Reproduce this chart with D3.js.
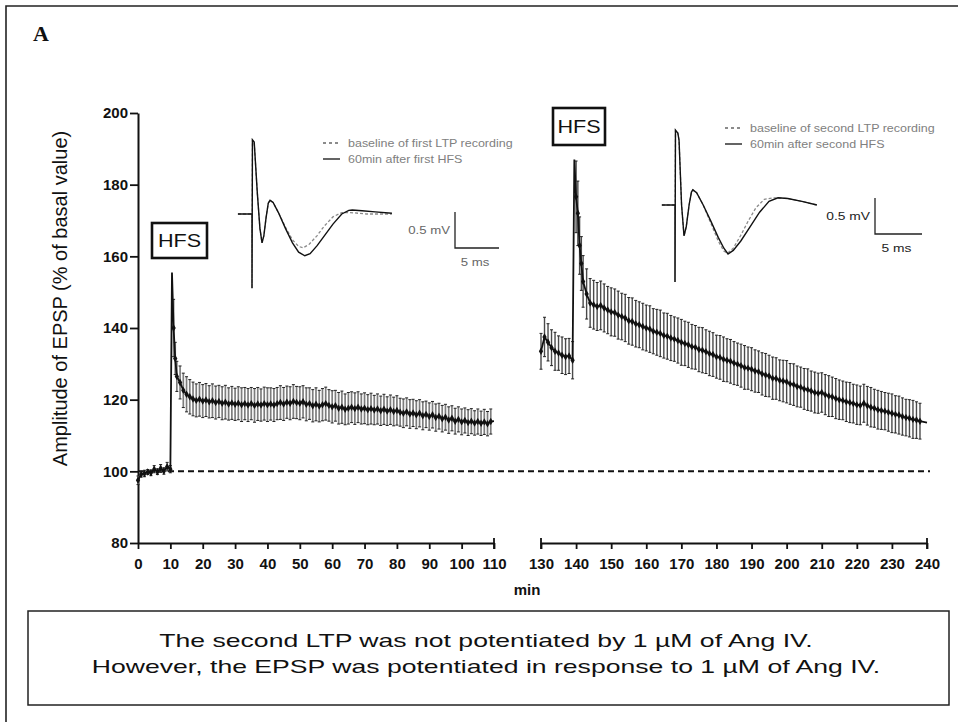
<!DOCTYPE html>
<html>
<head>
<meta charset="utf-8">
<script src="https://cdn.jsdelivr.net/npm/d3@7"></script>
<style>
  html, body { margin: 0; padding: 0; background: #fff; }
  svg { display: block; }
</style>
</head>
<body>
<svg id="chart" width="958" height="722"></svg>
<script>
// ---- Recording 1: first LTP (min, % of basal EPSP amplitude, SEM) ----
const firstTime = [0,1,2,3,4,5,6,7,8,9,10,10.5,11,11.5,12,13,14,15,16,17,18,19,20,21,22,23,24,25,26,27,28,29,30,31,32,33,34,35,36,37,38,39,40,41,42,43,44,45,46,47,48,49,50,51,52,53,54,55,56,57,58,59,60,61,62,63,64,65,66,67,68,69,70,71,72,73,74,75,76,77,78,79,80,81,82,83,84,85,86,87,88,89,90,91,92,93,94,95,96,97,98,99,100,101,102,103,104,105,106,107,108,109,110];
const firstMean = [97.5,99.2,99.4,99.8,99.6,100.6,99.9,100.8,100.1,101.3,100.6,155.5,140.0,131.5,126.5,124.8,122.6,121.5,120.8,120.2,119.8,120.1,119.6,119.9,119.4,119.7,119.2,119.5,119.0,119.3,118.8,119.1,118.7,119.0,118.6,118.9,118.5,118.9,118.4,118.8,118.5,118.9,118.6,118.8,118.5,118.9,119.2,118.8,119.3,119.0,119.5,119.2,119.0,119.4,118.7,118.9,118.3,118.7,118.2,118.6,118.9,118.4,118.0,118.3,117.6,117.9,117.3,117.6,117.9,117.5,117.9,117.4,117.6,117.2,117.5,117.1,117.4,116.9,117.3,116.8,117.2,116.7,117.0,116.5,116.2,116.6,116.0,116.3,115.8,116.2,115.5,115.9,115.3,115.8,115.0,115.4,114.7,115.1,114.3,114.8,114.0,114.5,113.8,114.2,113.6,114.0,113.5,113.9,113.4,113.8,113.3,113.9,114.0];
const firstSem = [1.2,0.8,0.9,0.7,0.8,1.0,0.8,1.1,0.9,1.2,1.0,0,8.0,4.5,4.2,4.6,4.8,4.9,4.8,4.7,4.6,4.7,4.6,4.6,4.5,4.7,4.6,4.5,4.6,4.7,4.5,4.6,4.5,4.6,4.7,4.5,4.6,4.5,4.7,4.6,4.5,4.6,4.7,4.5,4.6,4.5,4.7,4.6,4.5,4.6,4.7,4.5,4.6,4.5,4.6,4.4,4.5,4.6,4.4,4.5,4.6,4.4,4.5,4.3,4.4,4.5,4.3,4.4,4.3,4.4,4.3,4.2,4.3,4.2,4.3,4.1,4.2,4.1,4.2,4.0,4.1,4.0,4.1,3.9,4.0,3.9,4.0,3.8,3.9,3.8,3.9,3.7,3.8,3.7,3.8,3.6,3.7,3.6,3.7,3.5,3.6,3.5,3.6,3.5,3.6,3.5,3.4,3.5,3.4,3.5,3.4,3.5];

// ---- Recording 2: second LTP ----
const secondTime = [130,131,132,133,134,135,136,137,138,139,139.5,140,140.5,141,141.5,142,143,144,145,146,147,148,149,150,151,152,153,154,155,156,157,158,159,160,161,162,163,164,165,166,167,168,169,170,171,172,173,174,175,176,177,178,179,180,181,182,183,184,185,186,187,188,189,190,191,192,193,194,195,196,197,198,199,200,201,202,203,204,205,206,207,208,209,210,211,212,213,214,215,216,217,218,219,220,221,222,223,224,225,226,227,228,229,230,231,232,233,234,235,236,237,238,239,240];
const secondMean = [133.5,137.5,136.0,134.5,133.5,133.0,132.4,132.0,132.2,131.0,187.0,176.6,172.0,163.0,158.0,153.0,149.5,147.0,146.5,146.0,146.3,145.6,145.0,144.5,144.3,143.6,143.2,142.8,142.0,141.8,141.2,140.9,140.4,140.0,139.7,139.1,138.8,138.5,137.9,137.7,137.2,136.9,136.5,136.0,135.7,135.3,134.8,134.6,134.0,133.8,133.4,132.9,132.6,132.0,131.8,131.3,131.0,130.7,130.2,129.9,129.5,129.0,128.8,128.5,128.0,127.8,127.2,126.9,126.6,126.0,125.9,125.4,125.2,125.0,124.4,124.2,123.7,123.5,123.0,122.8,122.4,122.0,121.8,122.0,121.4,121.0,120.8,120.3,120.0,119.8,119.4,119.2,118.9,118.6,118.4,119.0,118.3,117.9,117.6,117.2,117.0,116.8,116.5,116.2,115.9,115.7,115.3,115.0,114.8,114.5,114.3,114.0,113.8,113.6,113.8,113.5];
const secondSem = [5.0,5.5,5.2,5.0,5.3,4.8,5.1,5.0,4.9,5.2,0,10.0,9.0,8.0,7.5,7.2,7.0,6.8,6.8,6.7,6.8,6.7,6.6,6.7,6.6,6.7,6.5,6.6,6.5,6.6,6.5,6.4,6.5,6.4,6.5,6.3,6.4,6.5,6.3,6.4,6.3,6.2,6.3,6.4,6.2,6.3,6.2,6.1,6.2,6.3,6.1,6.2,6.1,6.0,6.1,6.2,6.0,6.1,6.0,5.9,6.0,6.1,5.9,6.0,5.9,5.8,5.9,6.0,5.8,5.9,5.8,5.7,5.8,5.9,5.7,5.8,5.7,5.6,5.7,5.8,5.6,5.7,5.6,5.5,5.6,5.7,5.5,5.6,5.5,5.4,5.5,5.6,5.4,5.5,5.4,5.3,5.4,5.5,5.3,5.4,5.3,5.2,5.3,5.4,5.2,5.3,5.2,5.1,5.2,5.3,5.1,5.0];

// ---- Axis ticks ----
const yTicks = [80,100,120,140,160,180,200];
const xTicksFirst = [0,10,20,30,40,50,60,70,80,90,100,110];
const xTicksSecond = [130,140,150,160,170,180,190,200,210,220,230,240];

// ---- Example field-EPSP traces (ms, mV) ----
const trace1Baseline = [[-1.6,0],[0,0],[0,-1.03],[0.05,1.03],[0.25,1.0],[0.6,0.3],[0.9,-0.2],[1.14,-0.4],[1.35,-0.3],[1.6,-0.05],[1.85,0.15],[2.05,0.19],[2.4,0.16],[3.0,0.02],[3.8,-0.18],[4.6,-0.36],[5.3,-0.45],[5.8,-0.47],[6.5,-0.42],[7.4,-0.3],[8.2,-0.17],[9.2,-0.04],[10.2,0.02],[11.2,0.02],[13,0.0],[15.9,0.0]];
const trace1After = [[-1.6,0],[0,0],[0,-1.03],[0.05,1.03],[0.25,1.0],[0.6,0.3],[0.9,-0.2],[1.14,-0.4],[1.35,-0.3],[1.6,-0.05],[1.85,0.15],[2.05,0.19],[2.4,0.16],[3.0,0.02],[3.8,-0.2],[4.6,-0.4],[5.3,-0.53],[6.0,-0.58],[6.6,-0.55],[7.4,-0.44],[8.3,-0.29],[9.2,-0.14],[10.2,0.0],[11.0,0.05],[11.4,0.055],[12.5,0.045],[14,0.03],[15.9,0.01]];
const trace2Baseline = [[-1.4,0],[0,0],[0,-1.07],[0.05,1.04],[0.3,1.0],[0.43,0.9],[0.7,0.0],[0.96,-0.43],[1.2,-0.3],[1.5,0.0],[1.75,0.18],[1.9,0.21],[2.3,0.17],[3.0,0.0],[3.8,-0.25],[4.6,-0.5],[5.2,-0.64],[5.6,-0.67],[6.2,-0.6],[7.0,-0.42],[7.8,-0.22],[8.6,-0.04],[9.5,0.08],[10.5,0.1],[12,0.09],[13.5,0.05],[15.1,0.0]];
const trace2After = [[-1.4,0],[0,0],[0,-1.07],[0.05,1.04],[0.3,1.0],[0.43,0.9],[0.7,0.0],[0.96,-0.43],[1.2,-0.3],[1.5,0.0],[1.75,0.18],[1.9,0.21],[2.3,0.17],[3.0,0.0],[3.8,-0.22],[4.6,-0.45],[5.2,-0.6],[5.64,-0.68],[6.2,-0.63],[7.0,-0.5],[8.0,-0.3],[9.0,-0.1],[10.0,0.05],[10.96,0.1],[12,0.09],[13.5,0.05],[15.1,0.0]];

const legend1 = ["baseline of first LTP recording", "60min after first HFS"];
const legend2 = ["baseline of second LTP recording", "60min after second HFS"];
const noteLines = ["The second LTP was not potentiated by 1 \u00B5M of Ang IV.",
                   "However, the EPSP was potentiated in response to 1 \u00B5M of Ang IV."];

const sans = "'Liberation Sans', Arial, sans-serif";
const svg = d3.select("#chart");

// Text whose glyphs are widened horizontally by factor sx
function wideText(x, yPos, str, opts) {
  const o = Object.assign({ sx: 1, size: 12, anchor: "start", color: "#111", weight: "normal" }, opts);
  return svg.append("text")
    .attr("transform", `translate(${x},${yPos}) scale(${o.sx},1)`)
    .attr("text-anchor", o.anchor).attr("font-family", sans)
    .attr("font-size", o.size).attr("font-weight", o.weight)
    .attr("fill", o.color).text(str);
}

// Outer panel frame (top and left edges)
svg.append("path").attr("d", "M6,722 V6 H958").attr("fill", "none")
  .attr("stroke", "#222").attr("stroke-width", 1.6);

svg.append("text").attr("x", 33).attr("y", 41).text("A")
  .attr("font-family", "'Liberation Serif', 'Times New Roman', serif")
  .attr("font-weight", "bold").attr("font-size", 22).attr("fill", "#111");

// Scales: broken time axis with two segments
const y = d3.scaleLinear().domain([80, 200]).range([543, 113]);
const x1 = d3.scaleLinear().domain([0, 110]).range([138, 494]);
const x2 = d3.scaleLinear().domain([130, 240]).range([541, 927]);

function styleAxis(g, size) {
  g.selectAll("path.domain").attr("stroke", "#111").attr("stroke-width", 2);
  g.selectAll(".tick line").attr("stroke", "#111").attr("stroke-width", 1.8);
  g.selectAll(".tick text").attr("font-family", sans).attr("font-weight", "bold")
    .attr("font-size", size).attr("fill", "#111");
}

const gy = svg.append("g").attr("transform", "translate(138,0)")
  .call(d3.axisLeft(y).tickValues(yTicks).tickSize(8).tickSizeOuter(0).tickPadding(2));
styleAxis(gy, 15);

const gx1 = svg.append("g").attr("transform", "translate(0,543)")
  .call(d3.axisBottom(x1).tickValues(xTicksFirst).tickSize(6).tickSizeOuter(0).tickPadding(9));
styleAxis(gx1, 15);
const gx2 = svg.append("g").attr("transform", "translate(0,543)")
  .call(d3.axisBottom(x2).tickValues(xTicksSecond).tickSize(6).tickSizeOuter(0).tickPadding(9));
styleAxis(gx2, 15);
// end caps of the broken axis segments
[x1(110), x2(130), x2(240)].forEach(px => {
  svg.append("line").attr("x1", px).attr("x2", px).attr("y1", 538).attr("y2", 549)
    .attr("stroke", "#111").attr("stroke-width", 1.8);
});

svg.append("text").attr("x", 527).attr("y", 595).attr("text-anchor", "middle")
  .attr("font-family", sans).attr("font-weight", "bold").attr("font-size", 15)
  .attr("fill", "#111").text("min");

svg.append("text")
  .attr("transform", `translate(67,${(130 + 467) / 2}) rotate(-90)`)
  .attr("text-anchor", "middle").attr("font-family", sans).attr("font-size", 20)
  .attr("fill", "#111").text("Amplitude of EPSP (% of basal value)");

// Baseline reference at 100 %
svg.append("line").attr("x1", x1(0)).attr("x2", 930).attr("y1", y(100)).attr("y2", y(100))
  .attr("stroke", "#111").attr("stroke-width", 2).attr("stroke-dasharray", "6,4");

// Time courses with SEM bars
function drawSeries(times, means, sems, xs, barColor, barWidth) {
  const pts = times.map((t, i) => ({ t, m: means[i], s: sems[i] }));
  const withBar = pts.filter(d => d.s > 0);
  const g = svg.append("g");
  g.selectAll("line.err").data(withBar).join("line")
    .attr("x1", d => xs(d.t)).attr("x2", d => xs(d.t))
    .attr("y1", d => y(d.m - d.s)).attr("y2", d => y(d.m + d.s))
    .attr("stroke", barColor).attr("stroke-width", barWidth);
  ["lo", "hi"].forEach(k => {
    g.selectAll("line.cap" + k).data(withBar).join("line")
      .attr("x1", d => xs(d.t) - 1.5).attr("x2", d => xs(d.t) + 1.5)
      .attr("y1", d => y(k === "lo" ? d.m - d.s : d.m + d.s))
      .attr("y2", d => y(k === "lo" ? d.m - d.s : d.m + d.s))
      .attr("stroke", "#222").attr("stroke-width", 1);
  });
  g.append("path").datum(pts)
    .attr("d", d3.line().x(d => xs(d.t)).y(d => y(d.m)))
    .attr("fill", "none").attr("stroke", "#111").attr("stroke-width", 1.8);
  g.selectAll("path.pt").data(withBar).join("path")
    .attr("transform", d => `translate(${xs(d.t)},${y(d.m)})`)
    .attr("d", d3.symbol(d3.symbolDiamond, 16))
    .attr("fill", "#111");
}
drawSeries(firstTime, firstMean, firstSem, x1, "#7d7d7d", 1.7);
drawSeries(secondTime, secondMean, secondSem, x2, "#4a4a4a", 1.4);

// HFS markers
function hfsBox(x0, y0, w, h) {
  svg.append("rect").attr("x", x0).attr("y", y0).attr("width", w).attr("height", h)
    .attr("fill", "#fff").attr("stroke", "#111").attr("stroke-width", 2.6);
  wideText(x0 + w / 2, y0 + h / 2 + 6.5, "HFS", { sx: 1.2, size: 18, anchor: "middle" });
}
hfsBox(152, 223, 55, 35);
hfsBox(553, 108, 52, 37);

// Example traces with scale bars
function inset(o) {
  const tx = d3.scaleLinear().domain([0, 5]).range([o.x0, o.x0 + o.pxPer5ms]);
  const ty = d3.scaleLinear().domain([0, 0.5]).range([o.y0, o.y0 - o.pxPerHalfmV]);
  const line = d3.line().x(d => tx(d[0])).y(d => ty(d[1])).curve(d3.curveLinear);
  svg.append("path").datum(o.base).attr("d", line).attr("fill", "none")
    .attr("stroke", "#8a8a8a").attr("stroke-width", 1.3).attr("stroke-dasharray", "3,2");
  svg.append("path").datum(o.after).attr("d", line).attr("fill", "none")
    .attr("stroke", "#111").attr("stroke-width", 1.4);
  // scale bar
  const bx = o.barX, by = o.barY;
  svg.append("path")
    .attr("d", `M${bx},${by - o.pxPerHalfmV} V${by} H${bx + o.pxPer5ms}`)
    .attr("fill", "none").attr("stroke", "#222").attr("stroke-width", 1.3);
  wideText(bx - 5, by - o.pxPerHalfmV / 2 + 4, "0.5 mV",
           { sx: 1.2, size: o.fs, anchor: "end", color: o.textColor });
  wideText(bx + o.pxPer5ms / 2 - 2, by + 18, "5 ms",
           { sx: 1.2, size: o.fs, anchor: "middle", color: o.textColor });
  // legend
  o.legend.forEach((txt, i) => {
    const ly = o.legY + i * 16;
    svg.append("line").attr("x1", o.legX).attr("x2", o.legX + 17).attr("y1", ly).attr("y2", ly)
      .attr("stroke", i === 0 ? "#666" : "#222").attr("stroke-width", 1.4)
      .attr("stroke-dasharray", i === 0 ? "3,3" : null);
    wideText(o.legX + 25, ly + 3.5, txt, { sx: 1.25, size: 10, color: "#808080" });
  });
}
inset({ x0: 252, y0: 214, pxPer5ms: 44, pxPerHalfmV: 36, base: trace1Baseline, after: trace1After,
        barX: 455, barY: 248, fs: 11, textColor: "#666", legend: legend1, legX: 323, legY: 143 });
inset({ x0: 675, y0: 205, pxPer5ms: 47, pxPerHalfmV: 36, base: trace2Baseline, after: trace2After,
        barX: 875, barY: 234, fs: 11.5, textColor: "#222", legend: legend2, legX: 725, legY: 128 });

// Summary note
svg.append("rect").attr("x", 28).attr("y", 611).attr("width", 921).attr("height", 94)
  .attr("fill", "#fff").attr("stroke", "#222").attr("stroke-width", 1.5);
noteLines.forEach((t, i) => {
  wideText(486, 647 + i * 26, t, { sx: 1.4, size: 19, anchor: "middle" });
});
</script>
</body>
</html>
